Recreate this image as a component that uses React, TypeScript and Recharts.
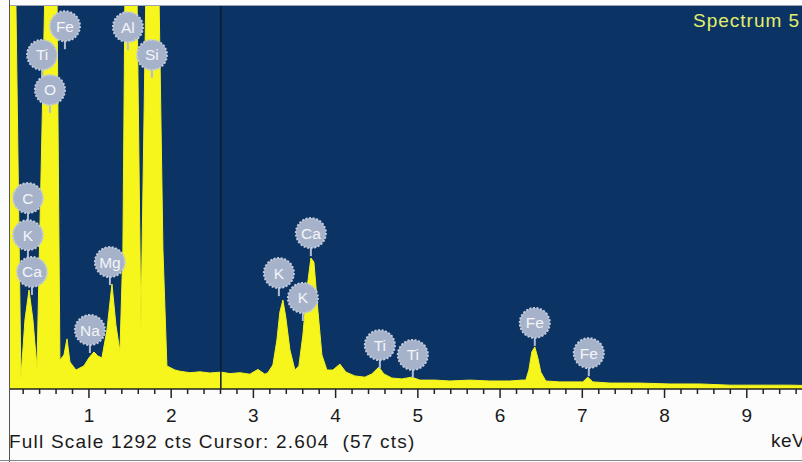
import React from 'react';
import { ComposedChart, Area, XAxis, YAxis, Scatter, ReferenceLine, CartesianGrid } from 'recharts';

// Spectrum: energy (keV) and counts
const energyKeV = [
  0.04, 0.076, 0.112, 0.173, 0.222, 0.271, 0.319, 0.368, 0.465, 0.526, 0.611, 0.647, 0.696, 0.733, 0.769,
  0.842, 0.939, 1.0, 1.061, 1.109, 1.158, 1.219, 1.28, 1.328, 1.377, 1.413, 1.438, 1.511, 1.584, 1.632,
  1.693, 1.766, 1.851, 1.9, 1.948, 2.046, 2.106, 2.228, 2.35, 2.471, 2.605, 2.714, 2.836, 2.957, 3.055,
  3.14, 3.176, 3.237, 3.286, 3.322, 3.359, 3.395, 3.444, 3.505, 3.553, 3.602, 3.65, 3.699, 3.736, 3.784,
  3.833, 3.894, 3.967, 4.052, 4.125, 4.234, 4.356, 4.441, 4.526, 4.587, 4.684, 4.805, 4.927, 5.024, 5.207,
  5.389, 5.632, 5.875, 6.119, 6.264, 6.313, 6.35, 6.386, 6.422, 6.459, 6.495, 6.556, 6.726, 6.909, 7.006,
  7.067, 7.128, 7.334, 7.699, 8.064, 8.429, 8.793, 9.158, 9.523, 10.0,
];
const countsCts = [
  2400, 3000, 1300, 37, 233, 334, 233, 71, 1350, 2800, 1350, 98, 115, 169, 91,
  64, 78, 105, 125, 111, 105, 199, 354, 216, 125, 469, 1350, 3200, 1350, 206,
  1350, 3500, 1350, 469, 78, 64, 60, 55, 58, 54, 57, 52, 55, 50, 66,
  50, 55, 81, 165, 260, 300, 240, 132, 64, 78, 182, 334, 442, 428, 266,
  115, 64, 64, 84, 57, 44, 40, 51, 74, 51, 37, 34, 40, 30, 30,
  27, 30, 27, 27, 30, 30, 64, 125, 142, 105, 57, 27, 24, 24, 24,
  40, 24, 20, 20, 17, 17, 13, 13, 13, 10,
];

// Element markers: label, energy (keV), marker level (cts)
const markerElements = ['Fe', 'Ti', 'O', 'Al', 'Si', 'C', 'K', 'Ca', 'Mg', 'Na', 'K', 'Ca', 'K', 'Ti', 'Ti', 'Fe', 'Fe'];
const markerEnergy = [0.708, 0.43, 0.526, 1.474, 1.766, 0.258, 0.258, 0.307, 1.255, 1.012, 3.31, 3.699, 3.602, 4.538, 4.939, 6.422, 7.079];
const markerLevel = [1224, 1127, 1009, 1221, 1127, 644, 519, 395, 428, 199, 391, 526, 307, 148, 115, 223, 121];

// Axis ticks
const tickValues = [
  0.2, 0.4, 0.6, 0.8, 1, 1.2, 1.4, 1.6, 1.8, 2, 2.2, 2.4, 2.6, 2.8, 3, 3.2, 3.4, 3.6, 3.8, 4,
  4.2, 4.4, 4.6, 4.8, 5, 5.2, 5.4, 5.6, 5.8, 6, 6.2, 6.4, 6.6, 6.8, 7, 7.2, 7.4, 7.6, 7.8, 8,
  8.2, 8.4, 8.6, 8.8, 9, 9.2, 9.4, 9.6, 9.8,
];
const majorTickLabels = [1, 2, 3, 4, 5, 6, 7, 8, 9];

const fullScale = 1292;
const cursorKeV = 2.604;
const cursorCts = 57;
const spectrumTitle = 'Spectrum 5';

const spectrum = energyKeV.map((e, i) => ({ e, c: countsCts[i] }));
const markers = markerElements.map((el, i) => ({ el, e: markerEnergy[i], lvl: markerLevel[i] }));

const FONT = '"Liberation Sans", Arial, sans-serif';

const Stamp = (props: any) => {
  const { cx, cy, payload } = props;
  if (cx == null || cy == null) return null;
  return (
    <g>
      <line x1={cx} x2={cx} y1={cy + 13} y2={cy + 23} stroke="#b3bdd2" strokeWidth={2} />
      <circle cx={cx} cy={cy} r={15} fill="#a6b2ca" stroke="#c3cbdc" strokeWidth={2} strokeDasharray="2 1.6" />
      <text x={cx} y={cy + 5.5} textAnchor="middle" fill="#f3f5f9" fontSize={15.5} fontFamily={FONT}>
        {payload.el}
      </text>
    </g>
  );
};

const TickMark = (props: any) => {
  const { x, y, payload } = props;
  const v = payload.value;
  const major = majorTickLabels.some((m) => Math.abs(m - v) < 1e-6);
  return (
    <g>
      <line x1={x} x2={x} y1={y} y2={y + (major ? 9 : 5)} stroke="#222" strokeWidth={1.5} />
      {major && (
        <text x={x} y={y + 33} textAnchor="middle" fill="#1a1a1a" fontSize={19} fontFamily={FONT}>
          {Math.round(v)}
        </text>
      )}
    </g>
  );
};

export default function App() {
  return (
    <div style={{ position: 'absolute', left: 0, top: 0, width: 802, height: 462, overflow: 'hidden', background: '#fcfcfc' }}>
      <ComposedChart width={830} height={462} data={spectrum} margin={{ top: 6, right: 1, left: 10, bottom: 43 }}>
        <CartesianGrid fill="#0b3465" horizontal={false} vertical={false} stroke="none" />
        <XAxis
          dataKey="e"
          type="number"
          domain={[0.04, 10]}
          allowDataOverflow
          ticks={tickValues}
          interval={0}
          tickSize={0}
          tickMargin={0}
          height={30}
          tickLine={false}
          axisLine={{ stroke: '#222', strokeWidth: 1.5 }}
          tick={<TickMark />}
        />
        <YAxis hide type="number" domain={[0, fullScale]} allowDataOverflow />
        <Area
          type="linear"
          dataKey="c"
          stroke="#f4f31e"
          strokeWidth={1}
          fill="#f7f61c"
          fillOpacity={1}
          isAnimationActive={false}
        />
        <ReferenceLine x={cursorKeV} stroke="#0c1a2e" strokeWidth={1.5} />
        <Scatter data={markers} dataKey="lvl" shape={<Stamp />} isAnimationActive={false} />
      </ComposedChart>
      <svg width={802} height={462} style={{ position: 'absolute', left: 0, top: 0, pointerEvents: 'none' }}>
        <line x1={9.5} x2={9.5} y1={0} y2={462} stroke="#555" strokeWidth={1} />
        <line x1={10} x2={802} y1={5.5} y2={5.5} stroke="#9aa4b2" strokeWidth={1} />
        <line x1={0} x2={802} y1={460.5} y2={460.5} stroke="#888" strokeWidth={1} />
        <text x={693} y={27} fill="#e3ee6c" fontSize={19} fontFamily={FONT} letterSpacing={1}>
          {spectrumTitle}
        </text>
        <text x={9} y={448} fill="#1a1a1a" fontSize={19} fontFamily={FONT} letterSpacing={1.2} style={{ whiteSpace: 'pre' }}>
          {`Full Scale ${fullScale} cts Cursor: ${cursorKeV.toFixed(3)}  (${cursorCts} cts)`}
        </text>
        <text x={771} y={447} fill="#1a1a1a" fontSize={19} fontFamily={FONT} letterSpacing={0.5}>
          keV
        </text>
      </svg>
    </div>
  );
}
